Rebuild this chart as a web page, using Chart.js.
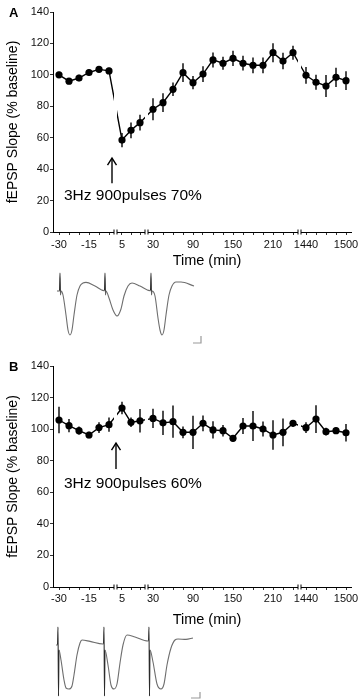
<!DOCTYPE html>
<html><head><meta charset="utf-8">
<script src="https://cdn.jsdelivr.net/npm/chart.js@4.4.1/dist/chart.umd.min.js"></script>
<style>
html,body{margin:0;padding:0;background:#fff;}
#wrap{position:relative;width:362px;height:700px;overflow:hidden;background:#fff;}
canvas{position:absolute;}
</style></head><body>
<div id="wrap">
<canvas id="ca" width="362" height="272" style="left:0;top:0"></canvas>
<canvas id="cb" width="362" height="280" style="left:0;top:354px"></canvas>
<canvas id="ta" width="160" height="85" style="left:50px;top:265px"></canvas>
<canvas id="tb" width="160" height="80" style="left:50px;top:620px"></canvas>
</div>
<script>
// ---------- data ----------
const times = [-30,-25,-20,-15,-10,-5, 5,10,15, 30,45,60,75,90,105,120,135,150,165,180,195,210,225,240, 1440,1455,1470,1485,1500];
const slopeA = [100,96,98,101.5,103.5,102.5, 58.5,64.7,69.6, 78.1,82.3,90.8,101.4,95,100.5,109.5,107.4,110.5,107.4,106.1,106.1,114.1,108.8,114.1, 99.7,95.3,92.9,98.4,96.3];
const semA   = [2,2,2,2,2,2, 4.5,5,5, 7,6,4.3,6,4.2,5,4.8,4.2,4.9,4.7,5,5,6,5.3,4.5, 5.3,4.8,7,6.1,6];
const slopeB = [105.8,102.2,99,96.3,101,102.8, 113.4,104.3,105.3, 106.8,104,104.7,98,98,103.7,99.5,99,94.2,102,102,100.1,96.3,98,103.7, 100.9,106.4,98.4,99,97.7];
const semB   = [8.4,4.2,2.6,2,3.4,4.5, 4,3,7.4, 6.1,7.7,10.2,3.7,10.5,5,5.5,3.7,2,5,9.5,4.7,9.3,8.8,2, 3.4,8.8,2.5,2,5.6];
const xTickLabels = [-30,-15,5,30,90,150,210,1440,1500];
const yTickStep = 20;
const xTitle = 'Time (min)';
const yTitle = 'fEPSP Slope (% baseline)';
const labelA = '3Hz 900pulses 70%';
const labelB = '3Hz 900pulses 60%';

// example fEPSP traces (time in ms, voltage in mV, arbitrary offset)
const traceA_t = [-1,1,1.5,2,2.5,3,5,8,10,12,14,16,19,22,25,28,37,46, 46.5,47,47.5,48,51,55,59,63,66,70,74,82,92, 92.5,93,93.5,94,97,100,102,104,106,108,111,114,118,123,136];
const traceA_v = [-0.05,-0.05,-0.05,0.85,-0.25,-0.05,-0.25,-1.25,-2.0,-2.25,-2.0,-1.25,-0.25,0.2,0.35,0.38,0.2,-0.03, -0.03,0.85,-0.25,-0.05,-0.4,-1.0,-1.3,-0.95,-0.3,0.2,0.35,0.2,-0.03, -0.03,0.85,-0.25,-0.05,-0.3,-1.4,-2.0,-2.25,-2.0,-1.25,-0.25,0.2,0.4,0.4,0.2];
const traceB_t = [-2,-0.5,0,0.5,1,3,6,8,11,14,16,19,22,24,32,45, 45.5,46,46.5,47,50,53,56,59,62,65,69,77,90, 90.5,91,91.5,92,95,99,103,106,109,113,117,120,128,135];
const traceB_v = [0,0,0.9,-2.55,-0.25,-0.75,-1.75,-2.15,-2.2,-2.05,-1.5,-0.5,0.1,0.25,0.18,0.05, 0.05,0.9,-2.55,-0.25,-1.0,-2.0,-2.2,-1.95,-0.9,0,0.5,0.4,0.2, 0.2,0.9,-2.55,-0.25,-0.85,-1.95,-2.2,-1.95,-1.0,-0.15,0.25,0.3,0.28,0.35];
const scaleBarA_t = [135,143,143], scaleBarA_v = [-2.65,-2.65,-2.3];
const scaleBarB_t = [133,142,142], scaleBarB_v = [-2.65,-2.65,-2.35];

// ---------- broken time axis ----------
const segments = [
  {t0:-30, t1:-5,   u0:0,    du:0.2},
  {t0:5,   t1:15,   u0:6.3,  du:0.18},
  {t0:30,  t1:240,  u0:9.4,  du:1/15},
  {t0:1440,t1:1500, u0:24.7, du:1/15}
];
function toAxis(t){
  for(const s of segments){ if(t>=s.t0-1e-9 && t<=s.t1+1e-9) return s.u0+(t-s.t0)*s.du; }
  return NaN;
}
const breakU = [];
for(let i=0;i<segments.length-1;i++){
  const a=segments[i], b=segments[i+1];
  breakU.push(((a.u0+(a.t1-a.t0)*a.du)+b.u0)/2);
}
const FONT = "'Liberation Sans', Arial, sans-serif";

const errPlugin = {
  id:'errbars',
  beforeDatasetsDraw(chart){
    const {ctx, scales:{x,y}} = chart;
    const ds = chart.data.datasets[0];
    ctx.save(); ctx.strokeStyle='#000'; ctx.lineWidth=1.4;
    ds.data.forEach((p,i)=>{
      const e = ds.err[i], px = x.getPixelForValue(p.x);
      ctx.beginPath(); ctx.moveTo(px, y.getPixelForValue(p.y-e)); ctx.lineTo(px, y.getPixelForValue(p.y+e)); ctx.stroke();
    });
    ctx.restore();
  }
};
const breakPlugin = {
  id:'breaks',
  afterDatasetsDraw(chart){
    const {ctx, chartArea:ca, scales:{x}} = chart;
    ctx.save();
    breakU.forEach(u=>{
      const px = x.getPixelForValue(u);
      ctx.fillStyle='#fff';
      ctx.fillRect(px-1.5, ca.top, 3, ca.bottom-ca.top+1.5);
      ctx.strokeStyle='#000'; ctx.lineWidth=1;
      [-1.5,1.5].forEach(d=>{ctx.beginPath(); ctx.moveTo(px+d, ca.bottom-2.5); ctx.lineTo(px+d, ca.bottom+2.5); ctx.stroke();});
    });
    ctx.restore();
  }
};
const annPlugin = {
  id:'ann',
  afterDraw(chart, args, o){
    const {ctx, chartArea:ca, scales:{x,y}} = chart;
    ctx.save();
    const ax = x.getPixelForValue(o.arrowU), tip = y.getPixelForValue(o.tip), tail = y.getPixelForValue(o.tail);
    ctx.strokeStyle='#000'; ctx.lineWidth=1.4;
    ctx.beginPath(); ctx.moveTo(ax, tail); ctx.lineTo(ax, tip); ctx.stroke();
    ctx.beginPath(); ctx.moveTo(ax-4.5, tip+7); ctx.lineTo(ax, tip); ctx.lineTo(ax+4.5, tip+7); ctx.stroke();
    ctx.fillStyle='#000'; ctx.font='15.5px '+FONT; ctx.textBaseline='middle'; ctx.textAlign='left';
    ctx.fillText(o.text, x.getPixelForValue(o.textU), y.getPixelForValue(o.textV));
    // x-axis title
    ctx.font='14.5px '+FONT; ctx.textAlign='center';
    ctx.fillText(xTitle, (ca.left+ca.right)/2+5, ca.bottom+o.titleDy);
    // panel letter
    ctx.font='bold 13px '+FONT; ctx.textBaseline='alphabetic'; ctx.textAlign='left';
    ctx.fillText(o.letter, 9, 16.5);
    ctx.restore();
  }
};

function mainChart(id, vals, errs, ann, xAxisH, tickPad){
  const pts = times.map((t,i)=>({x:toAxis(t), y:vals[i]}));
  const minor = times.map(toAxis);
  const majorU = xTickLabels.map(toAxis);
  return new Chart(document.getElementById(id), {
    type:'line',
    data:{datasets:[{data:pts, err:errs, borderColor:'#000', borderWidth:1.4, pointRadius:3.6,
      pointBackgroundColor:'#000', pointBorderColor:'#000', pointBorderWidth:0, tension:0}]},
    options:{
      responsive:false, animation:false, devicePixelRatio:1,
      layout:{padding:{left:0,right:11,top:12,bottom:0}},
      plugins:{legend:{display:false}, tooltip:{enabled:false}, ann:ann},
      scales:{
        x:{type:'linear', min:-0.6, max:29.2,
          afterFit(s){s.height=xAxisH;},
          afterBuildTicks(s){s.ticks = minor.map(v=>({value:v}));},
          ticks:{autoSkip:false, maxRotation:0, minRotation:0, padding:tickPad, font:{family:FONT,size:11}, color:'#111',
            callback:(v)=>{const k=majorU.findIndex(u=>Math.abs(u-v)<1e-6); return k>=0? String(xTickLabels[k]) : '';}},
          grid:{drawOnChartArea:false, tickLength:3, color:'#333'},
          border:{color:'#000', width:1},
          title:{display:false}
        },
        y:{min:0, max:140,
          afterFit(s){s.width=53;},
          ticks:{stepSize:yTickStep, padding:1, font:{family:FONT,size:11}, color:'#111'},
          grid:{drawOnChartArea:false, tickLength:3, color:'#333'},
          border:{color:'#000', width:1},
          title:{display:true, text:yTitle, font:{family:FONT,size:14}, color:'#000', padding:{top:4.6,bottom:0}}
        }
      }
    },
    plugins:[errPlugin, breakPlugin, annPlugin]
  });
}

mainChart('ca', slopeA, semA, {arrowU:5.3, tip:47, tail:31, text:labelA, textU:0.5, textV:23, letter:'A', titleDy:29}, 40, 3);
mainChart('cb', slopeB, semB, {arrowU:5.7, tip:91.2, tail:74.7, text:labelB, textU:0.5, textV:65.2, letter:'B', titleDy:33}, 47, 2);

function traceChart(id, tt, vv, st, sv, ymin, ymax){
  new Chart(document.getElementById(id), {
    type:'line',
    data:{datasets:[
      {data:tt.map((t,i)=>({x:t,y:vv[i]})), borderColor:'#6e6e6e', borderWidth:1.1, pointRadius:0, cubicInterpolationMode:'monotone',
       segment:{borderColor:c=> (Math.abs(c.p1.parsed.x-c.p0.parsed.x)<=0.6 && Math.abs(c.p1.parsed.y-c.p0.parsed.y)>0.5) ? '#2a2a2a' : undefined}},
      {data:st.map((t,i)=>({x:t,y:sv[i]})), borderColor:'#999', borderWidth:1.2, pointRadius:0, tension:0}
    ]},
    options:{responsive:false, animation:false, devicePixelRatio:1, layout:{padding:0},
      plugins:{legend:{display:false}, tooltip:{enabled:false}},
      scales:{x:{type:'linear', min:-8, max:152, display:false}, y:{min:ymin, max:ymax, display:false}}}
  });
}
traceChart('ta', traceA_t, traceA_v, scaleBarA_t, scaleBarA_v, -3.0, 1.25);
traceChart('tb', traceB_t, traceB_v, scaleBarB_t, scaleBarB_v, -2.75, 1.25);
</script>
</body></html>
